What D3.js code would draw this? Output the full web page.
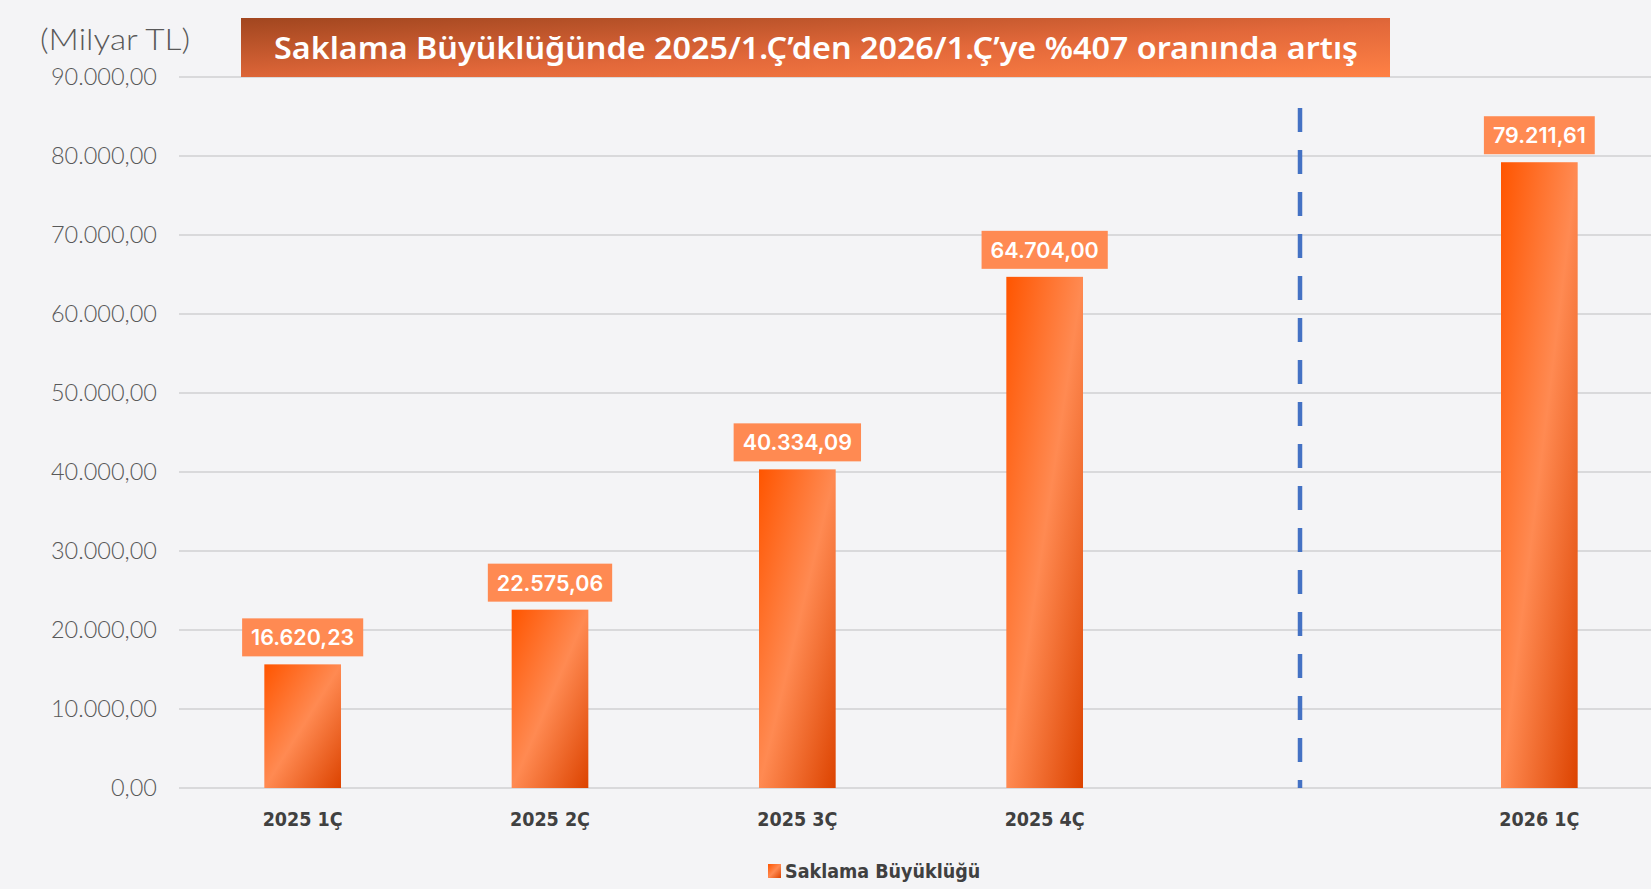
<!DOCTYPE html>
<html>
<head>
<meta charset="utf-8">
<script src="https://cdn.jsdelivr.net/npm/d3@7"></script>
<style>
  html, body { margin: 0; padding: 0; background: #f4f4f6; }
  svg { display: block; }
</style>
</head>
<body>
<svg id="chart" width="1651" height="889"></svg>
<script>
// data
const categories = ["2025 1Ç", "2025 2Ç", "2025 3Ç", "2025 4Ç", "", "2026 1Ç"];
const barValues = [15650, 22575.06, 40334.09, 64704.00, null, 79211.61];
const valueLabels = ["16.620,23", "22.575,06", "40.334,09", "64.704,00", null, "79.211,61"];
const yTicks = [0, 10000, 20000, 30000, 40000, 50000, 60000, 70000, 80000, 90000];
const titleText = "Saklama Büyüklüğünde 2025/1.Ç’den 2026/1.Ç’ye %407 oranında  artış";
const unitText = "(Milyar TL)";
const legendText = "Saklama Büyüklüğü";

const svg = d3.select("#chart");
const W = 1651, H = 889;

svg.append("rect").attr("width", W).attr("height", H).attr("fill", "#f4f4f6");

const defs = svg.append("defs");

// diagonal gradient, light crease runs corner to corner
function orangeGrad(id) {
  const g = defs.append("linearGradient")
    .attr("id", id)
    .attr("x1", 0).attr("y1", 0).attr("x2", 1).attr("y2", 1);
  g.append("stop").attr("offset", "0%").attr("stop-color", "#ff5500");
  g.append("stop").attr("offset", "50%").attr("stop-color", "#ff8a52");
  g.append("stop").attr("offset", "100%").attr("stop-color", "#dc4300");
}
orangeGrad("barGrad");
orangeGrad("legendGrad");

const titleGrad = defs.append("linearGradient")
  .attr("id", "titleGrad")
  .attr("x1", 0).attr("y1", 0).attr("x2", 1).attr("y2", 1);
titleGrad.append("stop").attr("offset", "0%").attr("stop-color", "#a1461f");
titleGrad.append("stop").attr("offset", "55%").attr("stop-color", "#e2683a");
titleGrad.append("stop").attr("offset", "100%").attr("stop-color", "#ff8145");

const x = d3.scaleBand()
  .domain(categories.map((c, i) => i))
  .range([179, 1663])
  .paddingInner(0.69)
  .paddingOuter(0.345);

const y = d3.scaleLinear()
  .domain([0, 90000])
  .range([788, 77]);

const fmt = d3.formatLocale({ decimal: ",", thousands: ".", grouping: [3], currency: ["", ""] }).format(",.2f");

// grid lines
svg.append("g")
  .selectAll("line")
  .data(yTicks)
  .join("line")
  .attr("x1", 179).attr("x2", W)
  .attr("y1", d => y(d)).attr("y2", d => y(d))
  .attr("stroke", "#d9d9db")
  .attr("stroke-width", 2);

// y axis labels
const yAxis = svg.append("g")
  .attr("transform", "translate(157,0)")
  .call(d3.axisLeft(y).tickValues(yTicks).tickFormat(fmt).tickSize(0).tickPadding(0));
yAxis.select(".domain").remove();
yAxis.selectAll("text")
  .attr("fill", "#595959")
  .style("font-family", "Lato, 'Open Sans', sans-serif")
  .style("font-size", "23.5px")
  .style("font-weight", 300);

// dashed divider
const divX = x(4) + x.bandwidth() / 2 + 8;
svg.append("line")
  .attr("x1", divX).attr("x2", divX)
  .attr("y1", 108).attr("y2", 788)
  .attr("stroke", "#4472c4")
  .attr("stroke-width", 4.5)
  .attr("stroke-dasharray", "24 18");

// bars
const barData = categories.map((c, i) => ({ i, c, v: barValues[i], label: valueLabels[i] }))
  .filter(d => d.v != null);

svg.append("g")
  .selectAll("rect")
  .data(barData)
  .join("rect")
  .attr("x", d => x(d.i))
  .attr("width", x.bandwidth())
  .attr("y", d => y(d.v))
  .attr("height", d => y(0) - y(d.v))
  .attr("fill", "url(#barGrad)");

// value labels (Inter has proportional digits, like the original)
const lab = svg.append("g")
  .selectAll("g")
  .data(barData)
  .join("g")
  .attr("transform", d => `translate(${x(d.i) + x.bandwidth() / 2},${y(d.v) - 8})`);

lab.append("text")
  .attr("text-anchor", "middle")
  .attr("y", -11)
  .attr("fill", "#fff")
  .style("font-family", "Inter, 'Noto Sans', sans-serif")
  .style("font-size", "21.5px")
  .style("font-weight", 600)
  .text(d => d.label);

lab.each(function () {
  const g = d3.select(this);
  const bb = g.select("text").node().getBBox();
  g.insert("rect", "text")
    .attr("x", bb.x - 9).attr("width", bb.width + 18)
    .attr("y", -38).attr("height", 38)
    .attr("fill", "#ff8a52");
});

// x axis labels
svg.append("g")
  .selectAll("text")
  .data(categories.map((c, i) => ({ c, i })).filter(d => d.c))
  .join("text")
  .attr("x", d => x(d.i) + x.bandwidth() / 2)
  .attr("y", 826)
  .attr("text-anchor", "middle")
  .attr("fill", "#404040")
  .style("font-family", "'Liberation Sans Narrow', 'DejaVu Sans Condensed', sans-serif")
  .style("font-size", "19.5px")
  .style("font-weight", 700)
  .text(d => d.c);

// legend
svg.append("rect")
  .attr("x", 768).attr("y", 864).attr("width", 13).attr("height", 14)
  .attr("fill", "url(#legendGrad)");
svg.append("text")
  .attr("x", 785).attr("y", 878)
  .attr("fill", "#404040")
  .style("font-family", "'Liberation Sans Narrow', 'DejaVu Sans Condensed', sans-serif")
  .style("font-size", "19.5px")
  .style("font-weight", 700)
  .text(legendText);

// title banner
svg.append("rect")
  .attr("x", 241).attr("y", 18).attr("width", 1149).attr("height", 59)
  .attr("fill", "url(#titleGrad)");
svg.append("text")
  .attr("x", 816).attr("y", 59)
  .attr("text-anchor", "middle")
  .attr("fill", "#fff")
  .attr("textLength", 1084)
  .attr("lengthAdjust", "spacingAndGlyphs")
  .style("font-family", "'Noto Sans', sans-serif")
  .style("font-size", "30px")
  .style("font-weight", 600)
  .text(titleText);

// unit label
svg.append("text")
  .attr("x", 40).attr("y", 50)
  .attr("fill", "#595959")
  .attr("textLength", 150)
  .attr("lengthAdjust", "spacingAndGlyphs")
  .style("font-family", "Lato, 'Open Sans', sans-serif")
  .style("font-size", "30px")
  .style("font-weight", 300)
  .text(unitText);
</script>
</body>
</html>
